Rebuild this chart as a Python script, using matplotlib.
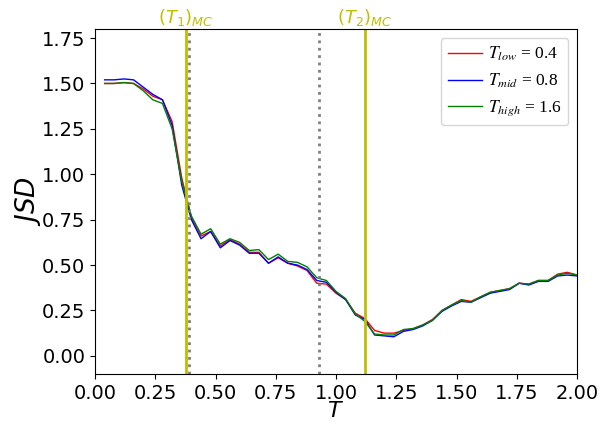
import numpy as np
import matplotlib
matplotlib.use("Agg")
import matplotlib.pyplot as plt

# temperature grid and JSD curves
T = np.round(np.arange(1, 51) * 0.04, 2)

jsd_low = [1.50, 1.50, 1.505, 1.50, 1.47, 1.43, 1.41, 1.29, 0.98, 0.76,
           0.66, 0.685, 0.605, 0.64, 0.615, 0.57, 0.57, 0.51, 0.54, 0.51,
           0.495, 0.47, 0.40, 0.395, 0.345, 0.31, 0.235, 0.205, 0.14, 0.125,
           0.125, 0.14, 0.15, 0.17, 0.20, 0.25, 0.28, 0.31, 0.30, 0.325,
           0.35, 0.36, 0.37, 0.40, 0.395, 0.415, 0.415, 0.45, 0.46, 0.445]
jsd_mid = [1.52, 1.52, 1.525, 1.52, 1.48, 1.44, 1.41, 1.27, 0.94, 0.75,
           0.645, 0.685, 0.595, 0.635, 0.61, 0.565, 0.565, 0.51, 0.545, 0.51,
           0.50, 0.475, 0.415, 0.405, 0.35, 0.31, 0.225, 0.20, 0.115, 0.11,
           0.105, 0.135, 0.145, 0.165, 0.195, 0.245, 0.275, 0.30, 0.295, 0.32,
           0.345, 0.355, 0.365, 0.40, 0.39, 0.41, 0.41, 0.44, 0.445, 0.44]
jsd_high = [1.50, 1.50, 1.505, 1.50, 1.46, 1.41, 1.39, 1.25, 0.96, 0.77,
            0.67, 0.70, 0.615, 0.645, 0.625, 0.58, 0.585, 0.53, 0.56, 0.52,
            0.515, 0.49, 0.43, 0.415, 0.355, 0.315, 0.23, 0.19, 0.12, 0.115,
            0.115, 0.145, 0.15, 0.17, 0.195, 0.25, 0.28, 0.305, 0.295, 0.325,
            0.35, 0.36, 0.37, 0.40, 0.395, 0.415, 0.415, 0.445, 0.455, 0.445]

labels = [r'$T_{low}$ = 0.4', r'$T_{mid}$ = 0.8', r'$T_{high}$ = 1.6']
colors = ['r', 'b', 'g']

T_mc = [0.378, 1.12]
mc_labels = [r'$(T_1)_{MC}$', r'$(T_2)_{MC}$']
T_dotted = [0.388, 0.93]

fig = plt.figure(figsize=(6.1, 4.24), dpi=100)
ax = fig.add_axes([95 / 610, 1 - 374 / 424, (577 - 95) / 610, (374 - 29) / 424])

for y, lab, c in zip([jsd_low, jsd_mid, jsd_high], labels, colors):
    ax.plot(T, y, color=c, lw=1, label=lab)

for t, lab in zip(T_mc, mc_labels):
    ax.axvline(t, color='y', lw=2)
    ax.text(t, 1.004, lab, color='y', fontsize=13, ha='center', va='bottom',
            transform=ax.get_xaxis_transform())
for t in T_dotted:
    ax.axvline(t, color='gray', lw=2, ls=':')

ax.set_xlim(0, 2)
ax.set_ylim(-0.1, 1.8)
ax.set_xticks(np.arange(0, 2.01, 0.25))
ax.set_yticks(np.arange(0, 1.76, 0.25))
ax.tick_params(labelsize=14)
ax.set_xlabel(r'$T$', fontsize=16, labelpad=-1.5)
ax.set_ylabel(r'$JSD$', fontsize=19, labelpad=-1)

ax.legend(loc='upper right',
          prop={'family': 'Liberation Serif', 'size': 12.5, 'math_fontfamily': 'stix'},
          handlelength=2.0, handletextpad=0.3, borderpad=0.4, labelspacing=0.5)

fig.savefig('out.png', dpi=100)
